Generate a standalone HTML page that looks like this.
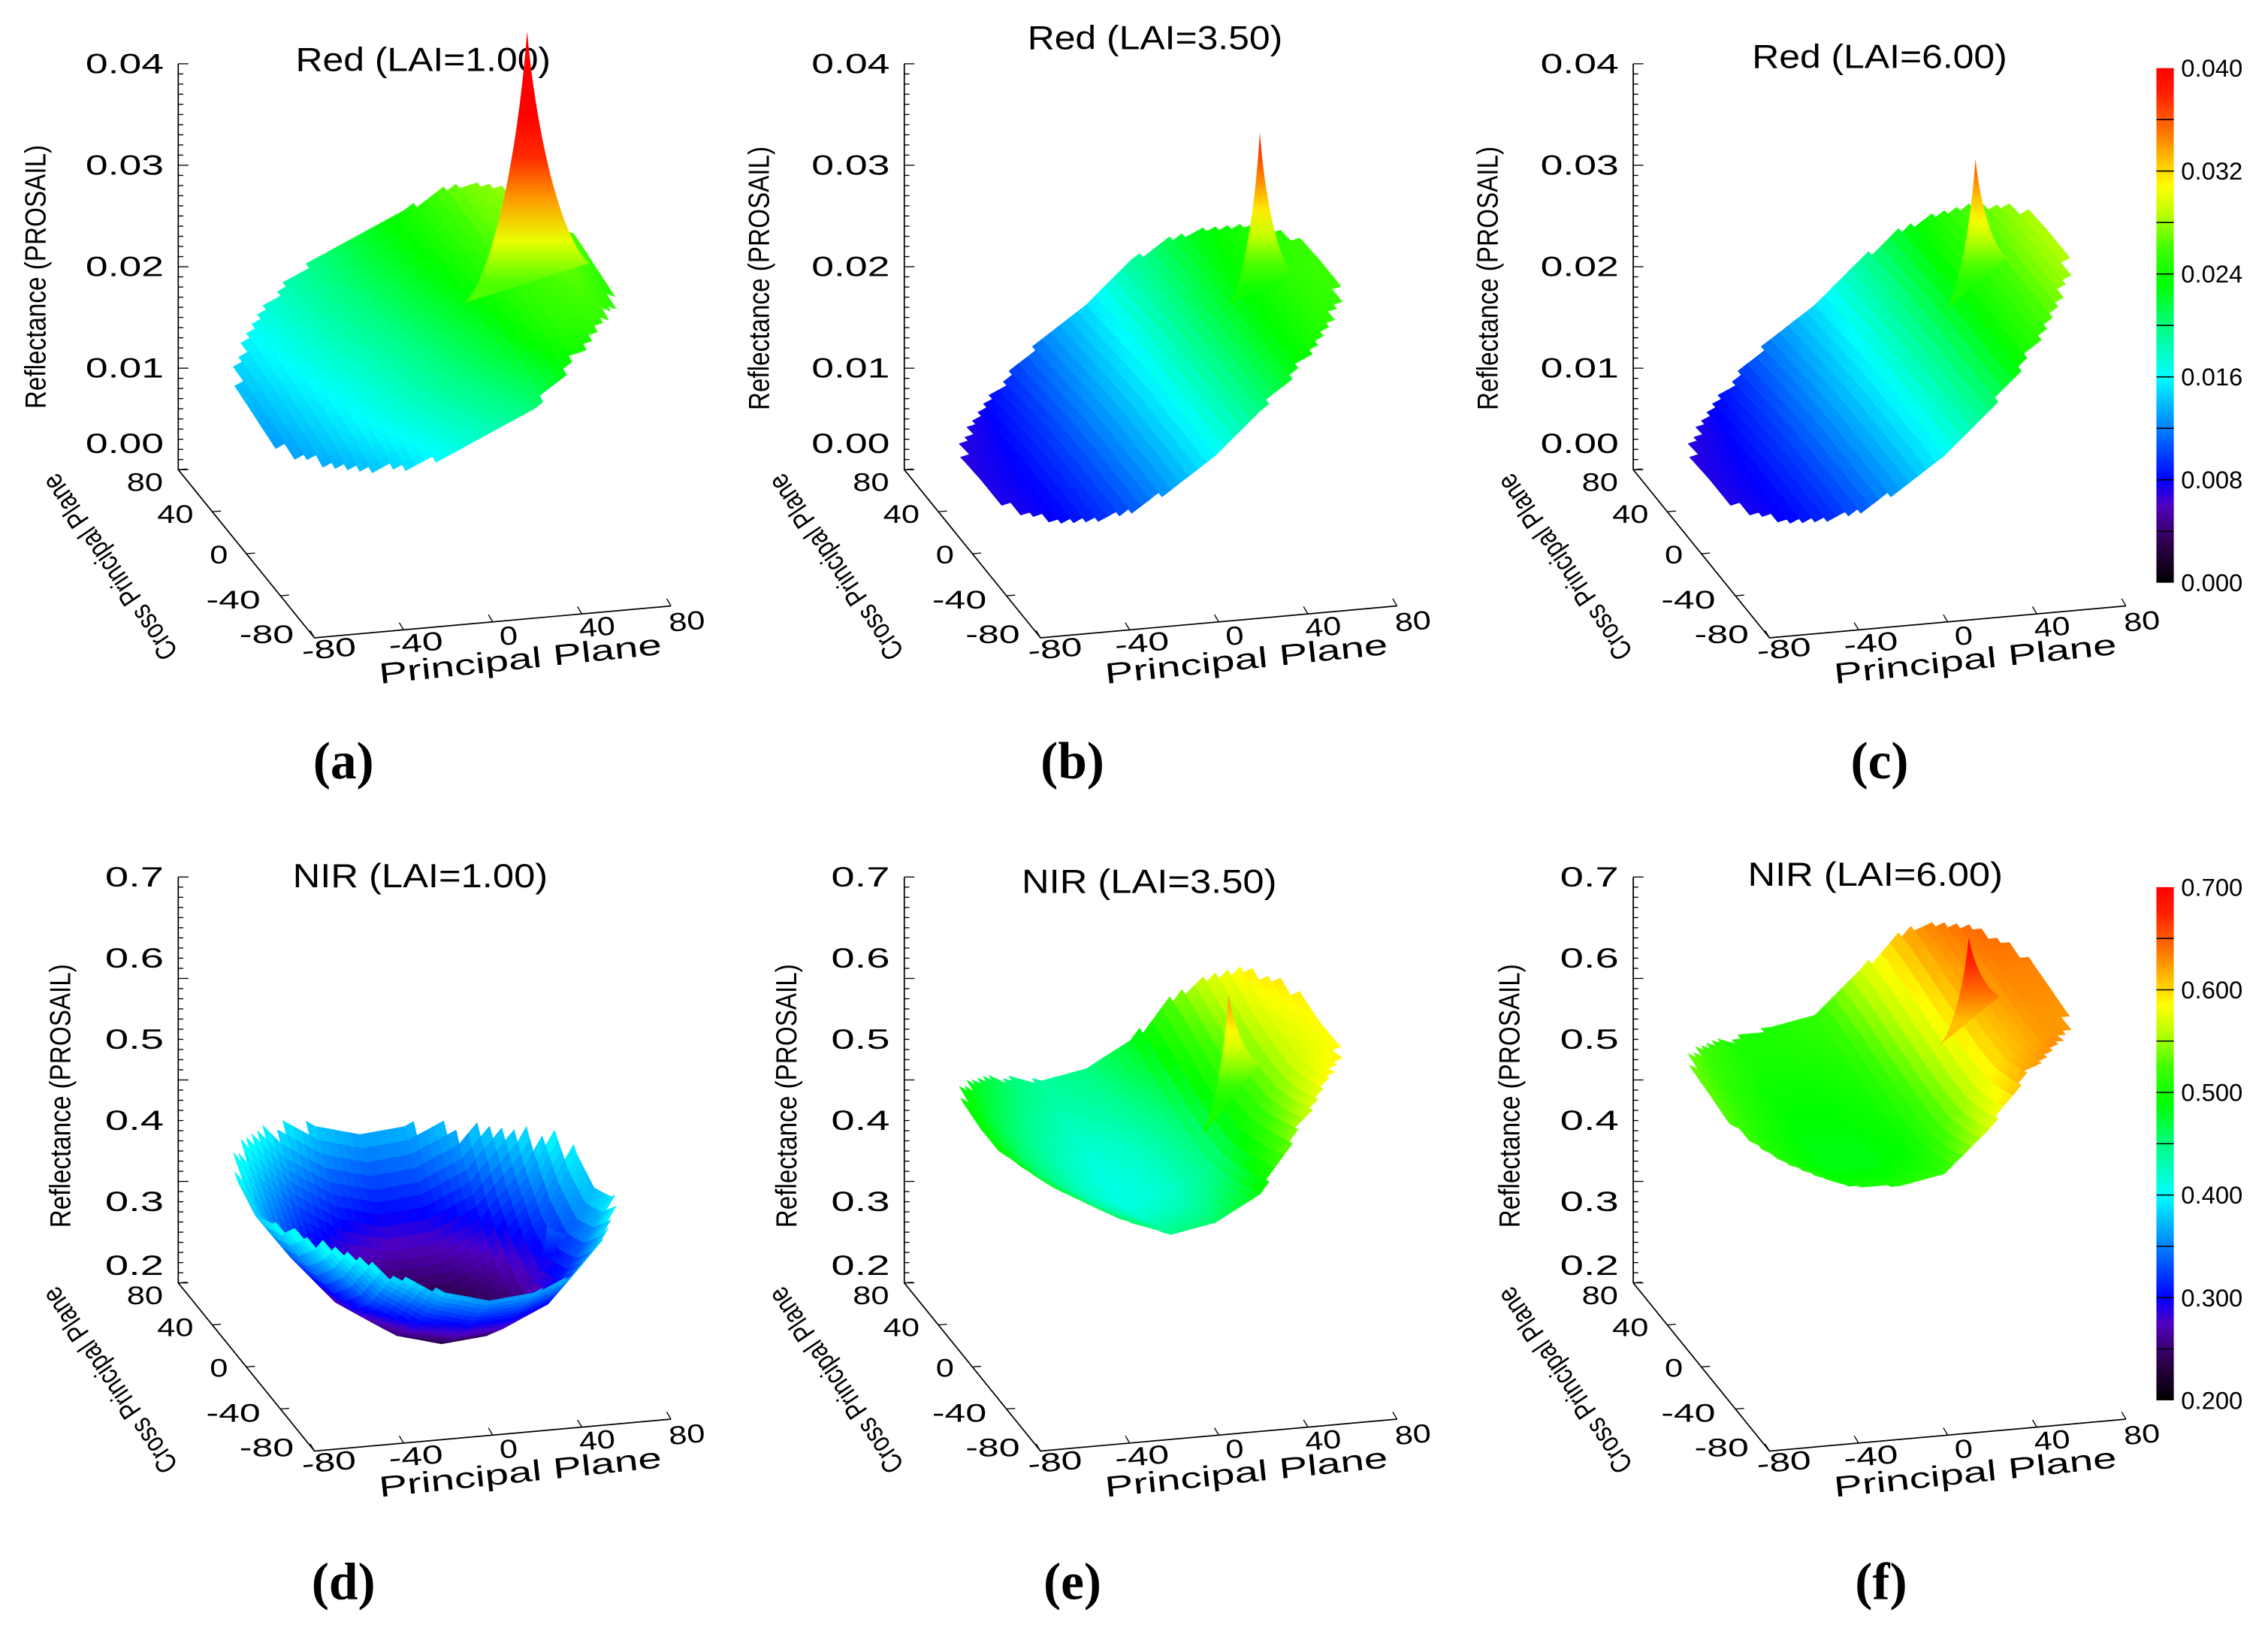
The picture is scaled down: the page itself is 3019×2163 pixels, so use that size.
<!DOCTYPE html>
<html><head><meta charset="utf-8"><title>PROSAIL reflectance surfaces</title>
<style>
html,body{margin:0;padding:0;background:#fff;}
svg{display:block;}
text{font-family:"Liberation Sans",sans-serif;fill:#000;}
.lbl{font-family:"Liberation Serif",serif;font-weight:bold;font-size:36px;}
</style></head>
<body>
<svg id="fig" xmlns="http://www.w3.org/2000/svg" width="3019" height="2163" viewBox="0 0 1565 1121" preserveAspectRatio="none">
<rect x="0" y="0" width="1565" height="1121" fill="#fff"/>
<defs id="defs"></defs>
<g id="plots"></g>
</svg>
<script>
// ---- data ----
const PRINCIPAL_ANGLES = [-80,-60,-40,-20,0,20,40,60,80];
const CROSS_ANGLES = [80,60,40,20,0,-20,-40,-60,-80];
const redLai1Principal  = [0.013,0.015,0.017,0.019,0.021,0.023,0.026,0.027,0.025];
const redLai1Cross      = [0.001,0.001,0.0008,0.0005,0,-0.0005,-0.001,-0.002,-0.003];
const redLai35Principal = [0.007,0.008,0.010,0.013,0.016,0.020,0.023,0.025,0.026];
const redLai35Cross     = [-0.001,-0.0008,-0.0005,-0.0002,0,0,0,0,0];
const redLai6Principal  = [0.007,0.008,0.010,0.013,0.016,0.020,0.024,0.027,0.029];
const redLai6Cross      = [-0.001,-0.0008,-0.0005,-0.0002,0,0,0,0,0];
const nirLai1Principal  = [0.40,0.33,0.27,0.235,0.22,0.225,0.25,0.31,0.40];
const nirLai1Cross      = [0.16,0.10,0.05,0.015,0,0.015,0.05,0.10,0.15];
const nirLai35Principal = [0.50,0.46,0.43,0.41,0.42,0.45,0.52,0.57,0.59];
const nirLai35Cross     = [0.03,0.025,0.015,0.005,0,0,0.01,0.025,0.04];
const nirLai6Principal  = [0.54,0.51,0.49,0.49,0.50,0.55,0.61,0.63,0.63];
const nirLai6Cross      = [0.015,0.015,0.01,0.004,0,-0.005,-0.005,0.005,0.02];
const hotspotAngle = [46,49,43,55,35,40];
const hotspotPeak  = [0.049,0.039,0.0365,0.34,0.63,0.70];
const hotspotWidth = [28,14,14,9,14,14];
const panelTitles = ["Red (LAI=1.00)","Red (LAI=3.50)","Red (LAI=6.00)","NIR (LAI=1.00)","NIR (LAI=3.50)","NIR (LAI=6.00)"];
const panelLetters = ["(a)","(b)","(c)","(d)","(e)","(f)"];
const redZTicks = [0.00,0.01,0.02,0.03,0.04];
const redZTickLabels = ["0.00","0.01","0.02","0.03","0.04"];
const nirZTicks = [0.2,0.3,0.4,0.5,0.6,0.7];
const nirZTickLabels = ["0.2","0.3","0.4","0.5","0.6","0.7"];
const principalTicks = [-80,-40,0,40,80];
const principalTickLabels = ["-80","-40","0","40","80"];
const crossTicks = [80,40,0,-40,-80];
const crossTickLabels = ["80","40","0","-40","-80"];
const redBarTicks = [0.000,0.008,0.016,0.024,0.032,0.040];
const redBarLabels = ["0.000","0.008","0.016","0.024","0.032","0.040"];
const nirBarTicks = [0.2,0.3,0.4,0.5,0.6,0.7];
const nirBarLabels = ["0.200","0.300","0.400","0.500","0.600","0.700"];

const surfaces = [
  [redLai1Principal, redLai1Cross],[redLai35Principal, redLai35Cross],[redLai6Principal, redLai6Cross],
  [nirLai1Principal, nirLai1Cross],[nirLai35Principal, nirLai35Cross],[nirLai6Principal, nirLai6Cross]];

// ---- layout ----
const NS = "http://www.w3.org/2000/svg";
const svg = document.getElementById('plots');
const defs = document.getElementById('defs');
const COLX = [123,624,1127];
const ROWS = [{oy:324, z0:0, zs:7000, lo:0, hi:0.04, clamp:18, ticks:redZTicks, tl:redZTickLabels},
              {oy:885, z0:0.2, zs:560, lo:0.2, hi:0.7, clamp:12, ticks:nirZTicks, tl:nirZTickLabels}];
const PV = [246,-22], CV = [94,116];

const STOPS = [[0,[0,0,0]],[0.08,[48,0,80]],[0.15,[80,0,192]],[0.2,[0,0,255]],[0.3,[0,128,255]],[0.4,[0,255,255]],
 [0.5,[0,255,128]],[0.58,[0,255,0]],[0.65,[64,255,0]],[0.72,[192,255,0]],[0.77,[255,255,0]],[0.82,[255,192,0]],
 [0.88,[255,112,0]],[0.95,[255,32,0]],[1,[255,0,0]]];
function cmap(t){
  t=Math.max(0,Math.min(1,t));
  for(let i=1;i<STOPS.length;i++){
    if(t<=STOPS[i][0]){const a=STOPS[i-1],b=STOPS[i];const f=(t-a[0])/(b[0]-a[0]);
      const c=a[1].map((v,k)=>Math.round(v+(b[1][k]-v)*f));return `rgb(${c[0]},${c[1]},${c[2]})`;}
  }
  return 'rgb(255,0,0)';
}
function interp(xs, vs, x){
  const asc = xs[0] < xs[xs.length-1];
  const X = asc? xs : xs.slice().reverse(), V = asc? vs : vs.slice().reverse();
  if(x<=X[0]) return V[0];
  for(let i=1;i<X.length;i++){ if(x<=X[i]){const f=(x-X[i-1])/(X[i]-X[i-1]);return V[i-1]+(V[i]-V[i-1])*f;} }
  return V[V.length-1];
}
function el(tag, attrs, parent){const e=document.createElementNS(NS,tag);for(const k in attrs)e.setAttribute(k,attrs[k]);(parent||svg).appendChild(e);return e;}

for(let p=0;p<6;p++){
  const col=p%3, row=Math.floor(p/3), R=ROWS[row];
  const ox=COLX[col], oy=R.oy, dx=ox-123, dy=oy-324;
  const g=el('g',{});
  
  
  const prin=surfaces[p][0], cross=surfaces[p][1];
  const val=(x,y)=>interp(PRINCIPAL_ANGLES,prin,x)+interp(CROSS_ANGLES,cross,y);
  const proj=(x,y,v)=>[ox+(x+80)/160*PV[0]+(80-y)/160*CV[0], oy+(x+80)/160*PV[1]+(80-y)/160*CV[1]-(v-R.z0)*R.zs];
  const tcol=v=>cmap((v-R.lo)/(R.hi-R.lo));

  const cEnd=[ox+CV[0],oy+CV[1]], pEnd=[cEnd[0]+PV[0],cEnd[1]+PV[1]];
  const axes=el('path',{d:`M${ox},${oy-(R.hi-R.z0)*R.zs}L${ox},${oy}L${cEnd[0]},${cEnd[1]}L${pEnd[0]},${pEnd[1]}`,fill:'none',stroke:'#000','stroke-width':0.9},g);
  
  
  const span=R.ticks[R.ticks.length-1]-R.ticks[0];
  for(let k=0;k<=40;k++){
    const v=R.ticks[0]+span*k/40, y=oy-(v-R.z0)*R.zs;
    const tk=el('line',{x1:ox,x2:ox+(k%10==0?7:3.5),y1:y,y2:y,stroke:'#000','stroke-width':0.7},g);
    
    
  }
  R.ticks.forEach((v,i)=>{
    let y=oy-(v-R.z0)*R.zs; y=Math.min(y,oy-R.clamp);
    const s=R.tl[i];
    const t=el('text',{x:ox-10,y:y,'text-anchor':'end','dominant-baseline':'central','font-size':19,textLength:s.length*13.5,lengthAdjust:'spacingAndGlyphs'},g);
    t.textContent=s;
    
    
  });
  const crossPos=[[100,333],[121,355],[151,383],[161,414],[184,438]];
  const prinPos=[[227,448],[287,444],[351,439],[412,433],[474,429]];
  crossTicks.forEach((v,i)=>{
    const a=[ox+(80-v)/160*CV[0],oy+(80-v)/160*CV[1]];
    const tk=el('line',{x1:a[0],y1:a[1],x2:a[0]+6,y2:a[1]-0.5,stroke:'#000','stroke-width':0.7},g);
    
    
    const s=crossTickLabels[i];
    const t1=el('text',{x:crossPos[i][0]+dx,y:crossPos[i][1]+dy,'text-anchor':'middle','dominant-baseline':'central','font-size':18,textLength:s.length*12.5,lengthAdjust:'spacingAndGlyphs'},g);
    t1.textContent=s;
    
    
  });
  principalTicks.forEach((v,i)=>{
    const b=[cEnd[0]+(v+80)/160*PV[0],cEnd[1]+(v+80)/160*PV[1]];
    const tk2=el('line',{x1:b[0],y1:b[1],x2:b[0]-3,y2:b[1]-5,stroke:'#000','stroke-width':0.7},g);
    
    
    const s=principalTickLabels[i];
    const t2=el('text',{x:prinPos[i][0]+dx,y:prinPos[i][1]+dy,'text-anchor':'middle','dominant-baseline':'central','font-size':18,textLength:s.length*12.5,lengthAdjust:'spacingAndGlyphs',transform:`rotate(-5 ${prinPos[i][0]+dx} ${prinPos[i][1]+dy})`},g);
    t2.textContent=s;
    
    
  });
  const yl=[[25,191],[524,192],[1027,192],[42,756],[543,756],[1042,756]][p];
  const yt=el('text',{x:0,y:0,'text-anchor':'middle','dominant-baseline':'central','font-size':20,textLength:182,lengthAdjust:'spacingAndGlyphs',transform:`translate(${yl[0]},${yl[1]}) rotate(-90)`},g);
  yt.textContent='Reflectance (PROSAIL)';
  
  
  const cx=76+dx, cy=391+dy;
  const ct=el('text',{x:0,y:0,'text-anchor':'middle','dominant-baseline':'central','font-size':20,textLength:150,lengthAdjust:'spacingAndGlyphs',transform:`translate(${cx},${cy}) rotate(-124)`},g);
  ct.textContent='Cross Principal Plane';
  
  
  const px=359+dx, py=455+dy;
  const pt=el('text',{x:px,y:py,'text-anchor':'middle','dominant-baseline':'central','font-size':20,textLength:196,lengthAdjust:'spacingAndGlyphs',transform:`rotate(-6 ${px} ${py})`},g);
  pt.textContent='Principal Plane';
  
  
  const tpos=[[292,49],[797,34],[1297,47],[290,612],[793,616],[1294,611]][p];
  const tt=el('text',{x:tpos[0],y:tpos[1],'text-anchor':'middle','font-size':23,textLength:176,lengthAdjust:'spacingAndGlyphs'},g);
  tt.textContent=panelTitles[p];
  
  
  const lpos=[[237,537],[740,537],[1297,537],[237,1103],[740,1103],[1298,1103]][p];
  const lt=el('text',{x:lpos[0],y:lpos[1],'text-anchor':'middle','class':'lbl'},g);
  lt.textContent=panelLetters[p];
  
  

  const sg=el('g',{},g);
  
  
  const S=4, cells=[];
  for(let x0=-80;x0<80;x0+=S){for(let y0=-80;y0<80;y0+=S){
    const xc=x0+S/2, yc=y0+S/2; if(Math.hypot(xc,yc)>78) continue;
    cells.push([x0,y0,(80-yc)*CV[1]+(xc+80)*PV[1]]);
  }}
  cells.sort((a,b)=>a[2]-b[2]);
  cells.forEach(c=>{
    const [x0,y0]=c; const pts=[[x0,y0],[x0+S,y0],[x0+S,y0+S],[x0,y0+S]];
    let sum=0; const sp=pts.map(q=>{const v=val(q[0],q[1]);sum+=v;return proj(q[0],q[1],v);});
    const col=tcol(sum/4);
    const poly=el('polygon',{points:sp.map(q=>q[0].toFixed(1)+','+q[1].toFixed(1)).join(' '),fill:col,stroke:col,'stroke-width':0.6},sg);
    
    
  });
  const hx=hotspotAngle[p], hw=hotspotWidth[p], pk=hotspotPeak[p];
  const bv=val(hx,0), ap=proj(hx,0,pk);
  const bl=proj(hx-hw,0,val(hx-hw,0)), br=proj(hx+hw,0,val(hx+hw,0));
  const gid='spk'+p;
  const lg=el('linearGradient',{id:gid,gradientUnits:'userSpaceOnUse',x1:0,y1:(bl[1]+br[1])/2,x2:0,y2:ap[1]},defs);
  for(let k=0;k<=6;k++){el('stop',{offset:k/6,'stop-color':tcol(bv+(pk-bv)*k/6)},lg);}
  const hL=bl[1]-ap[1], hR=br[1]-ap[1];
  const d=`M${bl[0]},${bl[1]} C${bl[0]+0.45*(ap[0]-bl[0])},${bl[1]-0.1*hL} ${ap[0]-0.15*(ap[0]-bl[0])},${ap[1]+0.45*hL} ${ap[0]},${ap[1]} C${ap[0]+0.15*(br[0]-ap[0])},${ap[1]+0.45*hR} ${br[0]-0.45*(br[0]-ap[0])},${br[1]-0.1*hR} ${br[0]},${br[1]} Z`;
  const sp=el('path',{d:d,fill:`url(#${gid})`},g);
  
  
}

[[redBarTicks,redBarLabels,47,402,0,0.04],[nirBarTicks,nirBarLabels,612,966,0.2,0.7]].forEach((cb,i)=>{
  const [ticks,labels,y0,y1,lo,hi]=cb;
  const g=el('g',{});
  
  
  const gid='cbg'+i;
  const lg=el('linearGradient',{id:gid,x1:0,y1:1,x2:0,y2:0},defs);
  STOPS.forEach(s=>el('stop',{offset:s[0],'stop-color':`rgb(${s[1].join(',')})`},lg));
  const r=el('rect',{x:1488,y:y0,width:12,height:y1-y0,fill:`url(#${gid})`},g);
  
  
  for(let k=1;k<10;k++){
    const y=y1-(y1-y0)*k/10;
    const ln=el('line',{x1:1488,x2:1500,y1:y,y2:y,stroke:'#000','stroke-width':0.8},g);
    
    
  }
  ticks.forEach((v,k)=>{
    const y=y1-(v-lo)/(hi-lo)*(y1-y0);
    const t=el('text',{x:1505,y:y,'dominant-baseline':'central','font-size':17},g);
    t.textContent=labels[k];
    
    
  });
});
</script>
</body></html>
